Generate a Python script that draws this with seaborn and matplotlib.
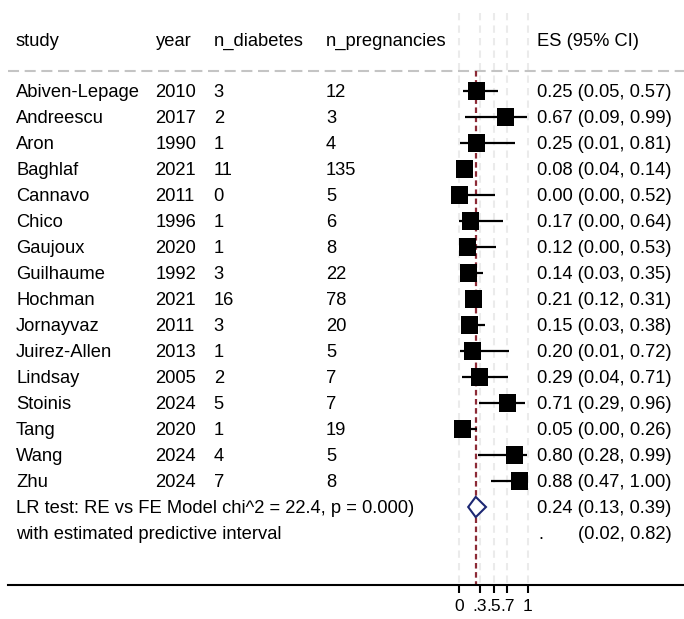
import matplotlib
matplotlib.use("Agg")
import matplotlib.pyplot as plt
import matplotlib.transforms as mtransforms
import numpy as np
import pandas as pd
import seaborn as sns

# ---- study-level data ----
studies = ["Abiven-Lepage", "Andreescu", "Aron", "Baghlaf", "Cannavo", "Chico",
           "Gaujoux", "Guilhaume", "Hochman", "Jornayvaz", "Juirez-Allen",
           "Lindsay", "Stoinis", "Tang", "Wang", "Zhu"]
years = [2010, 2017, 1990, 2021, 2011, 1996, 2020, 1992, 2021, 2011, 2013,
         2005, 2024, 2020, 2024, 2024]
n_diabetes = [3, 2, 1, 11, 0, 1, 1, 3, 16, 3, 1, 2, 5, 1, 4, 7]
n_pregnancies = [12, 3, 4, 135, 5, 6, 8, 22, 78, 20, 5, 7, 7, 19, 5, 8]
es = [0.25, 0.67, 0.25, 0.08, 0.00, 0.17, 0.12, 0.14, 0.21, 0.15, 0.20,
      0.29, 0.71, 0.05, 0.80, 0.88]
ci_low = [0.05, 0.09, 0.01, 0.04, 0.00, 0.00, 0.00, 0.03, 0.12, 0.03, 0.01,
          0.04, 0.29, 0.00, 0.28, 0.47]
ci_high = [0.57, 0.99, 0.81, 0.14, 0.52, 0.64, 0.53, 0.35, 0.31, 0.38, 0.72,
           0.71, 0.96, 0.26, 0.99, 1.00]

# ---- pooled estimate ----
pooled_es = 0.24
pooled_low = 0.13
pooled_high = 0.39
pred_low = 0.02
pred_high = 0.82
lr_label = "LR test: RE vs FE Model chi^2 = 22.4, p = 0.000)"
pred_label = "with estimated predictive interval"

headers = ["study", "year", "n_diabetes", "n_pregnancies"]
es_header = "ES (95% CI)"
tick_values = [0, 0.3, 0.5, 0.7, 1]
tick_labels = ["0", ".3", ".5", ".7", "1"]

df = pd.DataFrame({"study": studies, "year": years, "n_diabetes": n_diabetes,
                   "n_pregnancies": n_pregnancies, "es": es,
                   "lo": ci_low, "hi": ci_high})
df["row"] = np.arange(len(df))

sns.set_theme(style="white")
plt.rcParams["font.family"] = ["Liberation Sans", "DejaVu Sans"]

W, H = 684, 619
fig = plt.figure(figsize=(W / 100, H / 100), dpi=100)

# forest panel spans the full width; x is the proportion scale
x0_px, unit_px = 459.3, 68.4
ax_left_px, ax_right_px = 8, 684
ax_top_px, ax_bot_px = 10, 585
row0_px, row_step = 91, 26
ax = fig.add_axes([ax_left_px / W, 1 - ax_bot_px / H,
                   (ax_right_px - ax_left_px) / W, (ax_bot_px - ax_top_px) / H])
ax.set_xlim((ax_left_px - x0_px) / unit_px, (ax_right_px - x0_px) / unit_px)


def px_to_row(py):
    return (py - row0_px) / row_step


ax.set_ylim(px_to_row(ax_bot_px), px_to_row(ax_top_px))
ax.set_facecolor("white")

n = len(df)
row_lr = n
row_pred = n + 1
row_header = px_to_row(45.7)     # baseline of the header line
row_sep = px_to_row(71)
base_off = 6.3 / row_step        # baseline offset below each row centre

# light vertical reference lines at tick values
ax.vlines(tick_values, px_to_row(13), px_to_row(ax_bot_px), color="#ebebeb",
          lw=1.5, linestyle=(0, (3.5, 2.5)), zorder=0)
# header separator
ax.axhline(row_sep, color="#c4c4c4", lw=1.5, linestyle=(0, (5.3, 2.7)), zorder=1)
# pooled estimate line
ax.vlines([pooled_es], row_sep, px_to_row(ax_bot_px), color="#8c2a36", lw=1.6,
          linestyle=(0, (2.5, 1.6)), zorder=2)

# confidence intervals and point estimates
ax.hlines(df["row"], df["lo"], df["hi"], color="black", lw=1.6, zorder=3)
sns.scatterplot(data=df, x="es", y="row", marker="s", s=150, color="black",
                edgecolor="none", ax=ax, zorder=4, legend=False)

# pooled diamond
dh = 0.39
ax.fill([pooled_low, pooled_es, pooled_high, pooled_es],
        [row_lr, row_lr - dh, row_lr, row_lr + dh],
        facecolor="white", edgecolor="#1c2773", lw=1.5, zorder=5)

# axis styling
for side in ["top", "left", "right"]:
    ax.spines[side].set_visible(False)
ax.spines["bottom"].set_linewidth(1.5)
ax.spines["bottom"].set_color("black")
ax.set_xticks(tick_values)
ax.set_xticklabels(tick_labels)
ax.set_yticks([])
ax.set_xlabel("")
ax.set_ylabel("")
ax.tick_params(axis="x", direction="out", length=6, width=1.5, color="black",
               labelsize=12.5, pad=4, labelcolor="black", bottom=True)

# text columns
tr = mtransforms.blended_transform_factory(fig.transFigure, ax.transData)
col_px = [16, 155.5, 213.7, 326]
es_px = 536.7
fs = 13.2


def put(xp, row, s, offset=True):
    y = row + base_off if offset else row
    ax.text(xp / W, y, s, transform=tr, ha="left", va="baseline",
            fontsize=fs, color="black")


for xp, h in zip(col_px, headers):
    put(xp, row_header, h, offset=False)
put(es_px, row_header, es_header, offset=False)

for _, r in df.iterrows():
    vals = [r["study"], str(r["year"]), str(r["n_diabetes"]), str(r["n_pregnancies"])]
    for xp, v in zip(col_px, vals):
        put(xp, r["row"], v)
    put(es_px, r["row"], f"{r['es']:.2f} ({r['lo']:.2f}, {r['hi']:.2f})")

put(col_px[0], row_lr, lr_label)
put(es_px, row_lr, f"{pooled_es:.2f} ({pooled_low:.2f}, {pooled_high:.2f})")
put(col_px[0], row_pred, pred_label)
put(538, row_pred, ".")
put(578, row_pred, f"({pred_low:.2f}, {pred_high:.2f})")

fig.savefig("out.png", dpi=100, facecolor="white")
